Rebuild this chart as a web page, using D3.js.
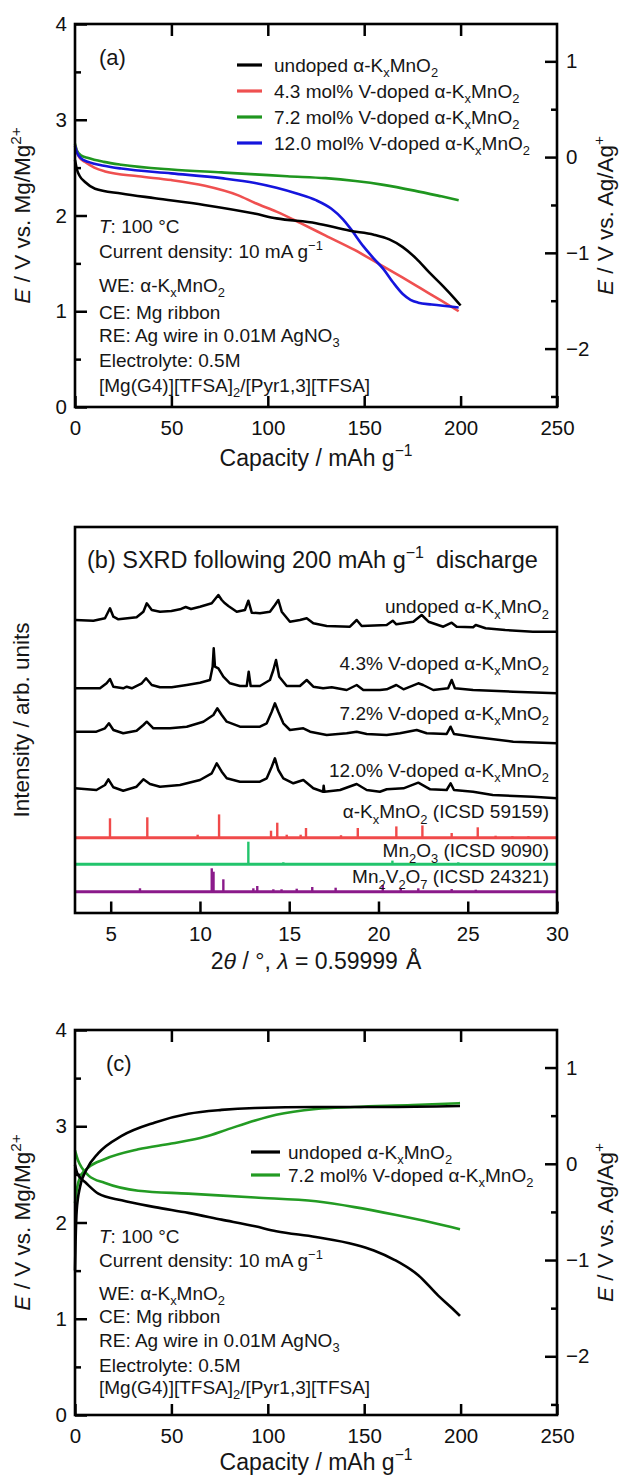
<!DOCTYPE html>
<html><head><meta charset="utf-8">
<script src="https://cdn.jsdelivr.net/npm/d3@7"></script>
<style>body{margin:0;background:#fff} svg{display:block}</style>
</head><body><svg id="c" width="619" height="1477"></svg>
<script>
// ---------- DATA ----------
const capTicks = [0, 50, 100, 150, 200, 250];
const capTopTicks = [50, 100, 150, 200];
const voltTicks = [0, 1, 2, 3, 4];
const voltMinor = [0.5, 1.5, 2.5, 3.5];
const agTicks = [-2, -1, 0, 1];
const agMinor = [-2.5, -1.5, -0.5, 0.5];
const agOffset = 2.61; // E(Mg/Mg2+) - E(Ag/Ag+)

// Panel (a): discharge curves [capacity, E vs Mg/Mg2+]
const aUndoped = [[0,2.58],[1,2.48],[2.5,2.41],[5.2,2.35],[10.4,2.28],[24,2.23],[41.5,2.18],[67,2.11],[93,2.02],[104.5,1.97],[125,1.92],[142.6,1.84],[155,1.8],[163,1.75],[170,1.67],[177,1.55],[184,1.4],[191,1.26],[197,1.13],[200,1.06]];
const aV43 = [[0,2.73],[1,2.66],[2.5,2.6],[5.2,2.56],[10,2.5],[15.6,2.46],[32.8,2.41],[50,2.37],[67.4,2.31],[84.7,2.21],[93.4,2.13],[104.5,2.04],[117,1.92],[130,1.79],[145,1.64],[158,1.49],[170,1.35],[180,1.23],[190,1.11],[199,1.0]];
const aV72 = [[0,2.75],[1,2.68],[3,2.63],[6.9,2.6],[15,2.56],[24,2.53],[50,2.48],[76,2.45],[93.4,2.43],[110,2.41],[130,2.39],[145.4,2.36],[160,2.32],[176,2.26],[190,2.2],[199,2.16]];
const aV120 = [[0,2.73],[1,2.66],[3,2.6],[6.9,2.56],[15,2.52],[24,2.49],[50,2.44],[76,2.39],[93.4,2.34],[104.5,2.29],[115,2.23],[125,2.16],[133,2.07],[139,1.96],[143,1.86],[149.5,1.68],[155,1.55],[160,1.44],[165,1.3],[170,1.18],[174,1.12],[178,1.09],[185,1.07],[199,1.04]];

// Panel (c): discharge / charge curves
const cUndopedDis = [[0,2.6],[1,2.52],[2.5,2.47],[5.2,2.42],[12.1,2.3],[24.2,2.23],[41.5,2.16],[58.8,2.1],[76,2.03],[93.4,1.96],[104.4,1.91],[124.9,1.85],[145.4,1.77],[155,1.71],[165.9,1.61],[178.2,1.45],[188.4,1.24],[195,1.12],[199.7,1.03]];
const cUndopedCh = [[0,1.5],[0.3,1.8],[0.9,2.13],[2.6,2.37],[6,2.55],[12.1,2.72],[24.2,2.9],[41.5,3.04],[58.8,3.13],[76,3.17],[93.4,3.19],[125,3.2],[160,3.2],[199.7,3.21]];
const cV72Dis = [[0,2.75],[1.5,2.65],[3.5,2.57],[6.9,2.49],[15.6,2.41],[32.8,2.33],[58.8,2.3],[93.4,2.26],[125,2.22],[145,2.16],[166,2.08],[185,2.0],[199.7,1.93]];
const cV72Ch = [[0,2.2],[1,2.35],[2.6,2.47],[6.9,2.57],[15.6,2.66],[32.8,2.76],[50,2.82],[67.4,2.89],[79.5,2.97],[93.4,3.06],[104.4,3.12],[125,3.18],[145,3.2],[175,3.22],[199.7,3.24]];

// Panel (b): SXRD traces [2theta, intensity (arb., stacked)]
const tthTicks = [5, 10, 15, 20, 25, 30];
const xrdUndoped = [[3,293],[4.03,292.3],[4.68,294.7],[4.96,304.7],[5.15,296.3],[5.43,293.7],[6.45,295.7],[6.83,301.3],[7.02,309.7],[7.3,303],[7.76,301.3],[8.4,302],[8.88,303.7],[9.2,306],[9.5,304],[10,306.3],[10.66,309.7],[11.03,318],[11.22,313],[11.4,309.7],[11.59,307],[12.06,301.3],[12.52,303],[12.71,312.3],[12.9,300.3],[13.36,299.7],[13.92,301.3],[14.2,308],[14.39,313],[14.58,301.3],[15.04,291.3],[15.6,293],[15.98,294.7],[16.35,289.7],[17.1,287],[18.4,286.3],[18.78,293],[19.06,287],[20.46,288],[20.8,292.3],[21,288.7],[21.95,291.3],[22.42,298],[22.8,291.3],[23.63,286.3],[24.1,290.3],[24.38,286.3],[25.3,285.7],[25.45,288],[26,284.7],[27.1,283],[28.65,281.3],[30,281.3]];
const xrdV43 = [[3,224.7],[4.4,224.7],[4.77,229.7],[4.96,234],[5.15,226.3],[5.7,224.7],[5.9,226.3],[6.18,224.7],[6.74,229.7],[6.98,234.7],[7.3,228],[7.76,225.7],[8.42,225.7],[9.26,228],[10,230.3],[10.56,233],[10.71,246.3],[10.77,264.7],[10.84,246.3],[11.03,244.7],[11.31,236.3],[11.68,229.7],[12.24,227],[12.62,227],[12.73,241.3],[12.84,227],[13.36,227],[13.92,233],[14.11,243],[14.26,253],[14.44,236.3],[14.86,227],[15.6,227],[15.98,233],[16.35,226.3],[16.9,224.7],[17.38,225.7],[18.22,223],[18.78,228],[19.15,223],[20.08,223],[20.46,223.7],[21,228],[21.4,223.7],[22.23,229.7],[22.5,228],[23.07,223],[23.9,224.7],[24.1,233],[24.28,224.7],[25.3,223],[27.55,221.3],[30,219.7]];
const xrdV72 = [[3,181.3],[4.2,181.3],[4.68,184.7],[4.9,189.7],[5.15,183],[5.7,179.7],[6.45,182.3],[6.83,188],[7.02,191.3],[7.39,184.7],[8.32,184.7],[9.26,186.3],[10.19,191.3],[10.75,198],[10.97,204.7],[11.22,198],[11.5,191.3],[12.24,186.3],[13.36,186.3],[13.74,189.7],[14.02,201.3],[14.2,209.7],[14.39,201.3],[14.67,189.7],[15.04,183],[15.79,184.7],[16.17,181.3],[17.1,178],[18.22,179.7],[18.78,181.3],[19.34,179],[20.46,178],[21.2,179.7],[22.14,183],[22.7,179.7],[23.82,179],[24.04,186.3],[24.23,179],[25.3,176.3],[27.55,171.3],[30,169.7]];
const xrdV120 = [[3,124.7],[4.2,123],[4.68,128],[4.87,133.7],[5.15,125.7],[5.7,122.3],[6.45,126.3],[6.83,133.7],[7.2,129],[7.76,126.3],[8.88,128],[10,133],[10.66,139.7],[10.94,149.7],[11.22,141.3],[11.5,134.7],[12.24,131.3],[13.36,131.3],[13.74,134.7],[14.02,146.3],[14.2,154.7],[14.39,143],[14.67,134.7],[15.23,129.7],[15.79,133],[16.35,124.7],[16.9,121.3],[16.93,127.3],[16.97,121.3],[17.85,123],[18.78,129],[19.34,123],[20.08,121.3],[20.46,123.7],[21.4,124.7],[22.23,130.3],[22.9,123.7],[23.82,123],[24.04,129.7],[24.23,123],[25.3,121.3],[26.4,118],[28.65,116.3],[30,114.7]];

// reference patterns: [2theta, relative height]
const refKMnO2 = [[4.96,19.4],[7.05,20.4],[9.87,3],[11.07,23.3],[13.98,7],[14.33,15],[14.86,3],[15.64,3],[15.94,9.7],[17.9,2.5],[18.84,9.7],[21.0,11.3],[22.46,12.3],[24.1,4.7],[25.56,10.4],[26.56,2],[27.5,1.5],[28.4,1.5]];
const refMn2O3 = [[12.71,22.6],[14.67,2],[20.78,3.7],[24.47,2]];
const refMn2V2O7 = [[6.64,3.4],[10.66,23.4],[10.76,20],[11.31,12.4],[12.99,3.4],[13.21,5.7],[14.11,2.4],[14.57,2.4],[15.42,3],[16.29,4.7],[17.6,4],[20.24,6.7],[21.25,3.4],[22.23,3.4],[24.1,2.7],[25.45,2]];
const refBaselines = [75.3, 48.7, 21.3];

// ---------- DRAWING ----------
const FONT = '"Liberation Sans", Arial, Helvetica, sans-serif';
const svg = d3.select("#c");
const L = 75, R = 557;
const TXT = "#161616";
const fmtInt = d3.format("d");

function rich(parent, parts, fs, attrs) {
  const t = parent.append("text").attr("font-size", fs).attr("font-family", FONT).attr("fill", TXT);
  for (const k in attrs) t.attr(k, attrs[k]);
  let shift = 0;
  parts.forEach(p => {
    const s = p[0], st = p[1] || "n";
    let target = 0, size = fs;
    if (st === "sub") { target = 0.28 * fs; size = 0.68 * fs; }
    if (st === "sup") { target = -0.42 * fs; size = 0.68 * fs; }
    const ts = t.append("tspan").text(s).attr("font-size", size);
    if (st === "i") ts.attr("font-style", "italic");
    if (p[2]) ts.attr("dx", p[2]);
    if (target !== shift) { ts.attr("dy", target - shift); shift = target; }
  });
  return t;
}

function addAxis(axis, tx, ty, fs) {
  const g = svg.append("g").attr("transform", `translate(${tx},${ty})`).call(axis);
  g.select(".domain").remove();
  g.attr("font-size", fs || 20.5).attr("font-family", FONT);
  g.selectAll(".tick line").attr("stroke", "#000").attr("stroke-width", 2.5);
  g.selectAll(".tick text").attr("fill", "#111");
  return g;
}

const kmno = (pre) => [[pre + "α-K"], ["x", "sub"], ["MnO"], ["2", "sub"]];

function electroPanel(p) {
  const x = d3.scaleLinear().domain([0, 250]).range([L, R]);
  const y = d3.scaleLinear().domain([0, 4]).range([p.bottom, p.top]);
  const yAg = d3.scaleLinear().domain([-agOffset, 4 - agOffset]).range([p.bottom, p.top]);

  addAxis(d3.axisBottom(x).tickValues(capTicks).tickFormat(fmtInt).tickSizeInner(-11).tickSizeOuter(0).tickPadding(13), 0, p.bottom);
  addAxis(d3.axisTop(x).tickValues(capTopTicks).tickSizeInner(-12).tickSizeOuter(0).tickFormat(""), 0, p.top);
  addAxis(d3.axisLeft(y).tickValues(voltTicks).tickFormat(fmtInt).tickSizeInner(-12).tickSizeOuter(0).tickPadding(8), L, 0);
  addAxis(d3.axisLeft(y).tickValues(voltMinor).tickSizeInner(-6).tickSizeOuter(0).tickFormat(""), L, 0);
  addAxis(d3.axisRight(yAg).tickValues(agTicks).tickFormat(fmtInt).tickSizeInner(-12).tickSizeOuter(0).tickPadding(9), R, 0);
  addAxis(d3.axisRight(yAg).tickValues(agMinor).tickSizeInner(-6).tickSizeOuter(0).tickFormat(""), R, 0);

  const line = d3.line().x(d => x(d[0])).y(d => y(d[1])).curve(d3.curveMonotoneX);
  p.series.forEach(s => {
    svg.append("path").datum(s.data).attr("d", line).attr("fill", "none")
      .attr("stroke", s.color).attr("stroke-width", 2.6).attr("stroke-linejoin", "round");
  });

  svg.append("rect").attr("x", L).attr("y", p.top).attr("width", R - L).attr("height", p.bottom - p.top)
    .attr("fill", "none").attr("stroke", "#000").attr("stroke-width", 2.6);

  // legend
  p.legend.forEach((e, i) => {
    const ly = p.legY[i];
    svg.append("line").attr("x1", p.legX[0]).attr("x2", p.legX[1]).attr("y1", ly).attr("y2", ly)
      .attr("stroke", e.color).attr("stroke-width", 3.2);
    rich(svg, e.parts, 19, { x: p.legX[2], y: ly, dy: "0.35em" });
  });

  // panel label
  rich(svg, [[p.label]], 22, { x: p.labelPos[0], y: p.labelPos[1], dy: "0.35em" });

  // annotations
  const ann = [
    [["T", "i"], [": 100 °C"]],
    [["Current density: 10 mA g"], ["−1", "sup"]],
    [["WE: α-K"], ["x", "sub"], ["MnO"], ["2", "sub"]],
    [["CE: Mg ribbon"]],
    [["RE: Ag wire in 0.01M AgNO"], ["3", "sub"]],
    [["Electrolyte: 0.5M"]],
    [["[Mg(G4)][TFSA]"], ["2", "sub"], ["/[Pyr1,3][TFSA]"]]
  ];
  ann.forEach((a, i) => rich(svg, a, 19, { x: 99, y: p.annY[i], dy: "0.35em" }));

  // axis titles
  rich(svg, [["Capacity / mAh g"], ["−1", "sup"]], 23, { x: (L + R) / 2, y: p.bottom + p.titleOff, "text-anchor": "middle" });
  const cy = (p.top + p.bottom) / 2;
  rich(svg, [["E", "i"], [" / V vs. Mg/Mg"], ["2+", "sup"]], 22.5, { transform: `translate(30,${cy}) rotate(-90)`, "text-anchor": "middle" });
  rich(svg, [["E", "i"], [" / V vs. Ag/Ag"], ["+", "sup"]], 22.5, { transform: `translate(613,${cy}) rotate(-90)`, "text-anchor": "middle" });
}

// Panel (a)
electroPanel({
  top: 24, bottom: 407, titleOff: 59,
  series: [
    { data: aV72, color: "#1f961f" },
    { data: aV43, color: "#ef5050" },
    { data: aV120, color: "#1515dd" },
    { data: aUndoped, color: "#000" }
  ],
  legend: [
    { color: "#000", parts: kmno("undoped ") },
    { color: "#ef5050", parts: kmno("4.3 mol% V-doped ") },
    { color: "#1f961f", parts: kmno("7.2 mol% V-doped ") },
    { color: "#1515dd", parts: kmno("12.0 mol% V-doped ") }
  ],
  legX: [237, 262, 274], legY: [65, 91, 117, 143],
  label: "(a)", labelPos: [99, 57],
  annY: [226.7, 251.7, 285, 312.7, 335, 360, 385]
});

// Panel (c)
electroPanel({
  top: 1030, bottom: 1415, titleOff: 55,
  series: [
    { data: cV72Ch, color: "#239b23" },
    { data: cV72Dis, color: "#239b23" },
    { data: cUndopedCh, color: "#000" },
    { data: cUndopedDis, color: "#000" }
  ],
  legend: [
    { color: "#000", parts: kmno("undoped ") },
    { color: "#239b23", parts: kmno("7.2 mol% V-doped ") }
  ],
  legX: [251, 280, 288], legY: [1152, 1175],
  label: "(c)", labelPos: [106, 1063],
  annY: [1236.7, 1260, 1293.3, 1316.7, 1340, 1365, 1387.3]
});

// Panel (b)
(function () {
  const top = 527, bottom = 913;
  const x = d3.scaleLinear().domain([3, 30]).range([L, R]);
  const y = d3.scaleLinear().domain([0, bottom - top]).range([bottom, top]);
  addAxis(d3.axisBottom(x).tickValues(tthTicks).tickFormat(fmtInt).tickSizeInner(-11.5).tickSizeOuter(0).tickPadding(13), 0, bottom);

  const refs = [
    { data: refKMnO2, color: "#f04a4a" },
    { data: refMn2O3, color: "#22c46c" },
    { data: refMn2V2O7, color: "#8a1a8a" }
  ];
  refs.forEach((r, i) => {
    const b = refBaselines[i];
    svg.append("g").selectAll("line").data(r.data).join("line")
      .attr("x1", d => x(d[0])).attr("x2", d => x(d[0]))
      .attr("y1", y(b)).attr("y2", d => y(b + d[1]))
      .attr("stroke", r.color).attr("stroke-width", 2.4);
    svg.append("line").attr("x1", x(3)).attr("x2", x(30)).attr("y1", y(b)).attr("y2", y(b))
      .attr("stroke", r.color).attr("stroke-width", 3);
  });

  const line = d3.line().x(d => x(d[0])).y(d => y(d[1]));
  [xrdUndoped, xrdV43, xrdV72, xrdV120].forEach(d => {
    svg.append("path").datum(d).attr("d", line).attr("fill", "none")
      .attr("stroke", "#000").attr("stroke-width", 2.5).attr("stroke-linejoin", "round");
  });

  svg.append("rect").attr("x", L).attr("y", top).attr("width", R - L).attr("height", bottom - top)
    .attr("fill", "none").attr("stroke", "#000").attr("stroke-width", 2.6);

  rich(svg, [["(b) SXRD following 200 mAh g"], ["−1", "sup"], ["discharge", "n", 12]], 23.5, { x: 87, y: 560, dy: "0.35em" });

  const labels = [
    [kmno("undoped "), 606.7],
    [kmno("4.3% V-doped "), 663],
    [kmno("7.2% V-doped "), 713],
    [kmno("12.0% V-doped "), 770],
    [[["α-K"], ["x", "sub"], ["MnO"], ["2", "sub"], [" (ICSD 59159)"]], 811.7],
    [[["Mn"], ["2", "sub"], ["O"], ["3", "sub"], [" (ICSD 9090)"]], 850.7],
    [[["Mn"], ["2", "sub"], ["V"], ["2", "sub"], ["O"], ["7", "sub"], [" (ICSD 24321)"]], 876.7]
  ];
  labels.forEach(l => rich(svg, l[0], 19, { x: 549, y: l[1], dy: "0.35em", "text-anchor": "end" }));

  rich(svg, [["2"], ["θ", "i"], [" / °, "], ["λ", "i"], [" = 0.59999"], ["Å", "n", 8]], 23, { x: (L + R) / 2, y: 969, "text-anchor": "middle" });
  rich(svg, [["Intensity / arb. units"]], 22.5, { transform: `translate(29,${(top + bottom) / 2}) rotate(-90)`, "text-anchor": "middle" });
})();
</script>
</body></html>
